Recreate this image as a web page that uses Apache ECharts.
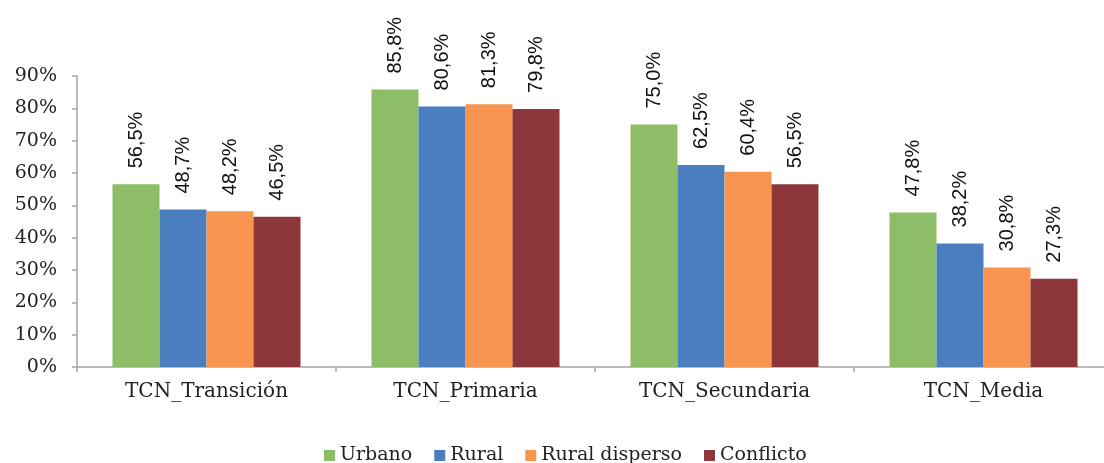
<!DOCTYPE html>
<html>
<head>
<meta charset="utf-8">
<script src="https://cdn.jsdelivr.net/npm/echarts@6/dist/echarts.min.js"></script>
<style>
html,body{margin:0;padding:0;background:#fff;}
#chart{width:1104px;height:463px;}
</style>
</head>
<body>
<div id="chart"></div>
<script>
const categories = ['TCN_Transición', 'TCN_Primaria', 'TCN_Secundaria', 'TCN_Media'];
const seriesNames = ['Urbano', 'Rural', 'Rural disperso', 'Conflicto'];
const urbano = [56.5, 85.8, 75.0, 47.8];
const rural = [48.7, 80.6, 62.5, 38.2];
const ruralDisperso = [48.2, 81.3, 60.4, 30.8];
const conflicto = [46.5, 79.8, 56.5, 27.3];
const yTicks = [0, 10, 20, 30, 40, 50, 60, 70, 80, 90];
const colors = ['#8dbd66', '#4a7ebf', '#f69450', '#8e373b'];

const serif = '"DejaVu Serif", Georgia, serif';
const sans = '"Liberation Sans", Arial, sans-serif';
const allData = [urbano, rural, ruralDisperso, conflicto];

const chart = echarts.init(document.getElementById('chart'), null, {renderer: 'canvas'});
chart.setOption({
  animation: false,
  color: colors,
  grid: {left: 77, width: 1036, top: 76, bottom: 96, containLabel: false, outerBoundsMode: 'none'},
  legend: {
    data: seriesNames,
    top: 441,
    left: 319,
    itemWidth: 11,
    itemHeight: 11,
    itemGap: 22,
    icon: 'rect',
    textStyle: {fontFamily: serif, fontSize: 19, color: '#222'}
  },
  xAxis: {
    type: 'category',
    data: categories,
    axisLine: {show: true, lineStyle: {color: '#a6a6a6', width: 1.5}},
    axisTick: {show: true, length: 5, lineStyle: {color: '#a6a6a6', width: 1.5}},
    axisLabel: {fontFamily: serif, fontSize: 20, color: '#222', margin: 15}
  },
  yAxis: {
    type: 'value',
    min: yTicks[0],
    max: yTicks[yTicks.length - 1],
    interval: 10,
    axisLine: {show: true, lineStyle: {color: '#a6a6a6', width: 1.5}},
    axisTick: {show: true, length: 5, lineStyle: {color: '#a6a6a6', width: 1.5}},
    splitLine: {show: false},
    axisLabel: {fontFamily: serif, fontSize: 19, color: '#222', margin: 20, formatter: v => v + '%'}
  },
  series: seriesNames.map((name, i) => ({
    name: name,
    type: 'bar',
    data: allData[i],
    barWidth: 47,
    barGap: '0%',
    label: {
      show: true,
      position: 'top',
      rotate: 90,
      align: 'left',
      verticalAlign: 'middle',
      distance: 16,
      fontFamily: sans,
      fontSize: 20,
      color: '#111',
      formatter: p => p.value.toFixed(1).replace('.', ',') + '%'
    }
  }))
});
</script>
</body>
</html>
